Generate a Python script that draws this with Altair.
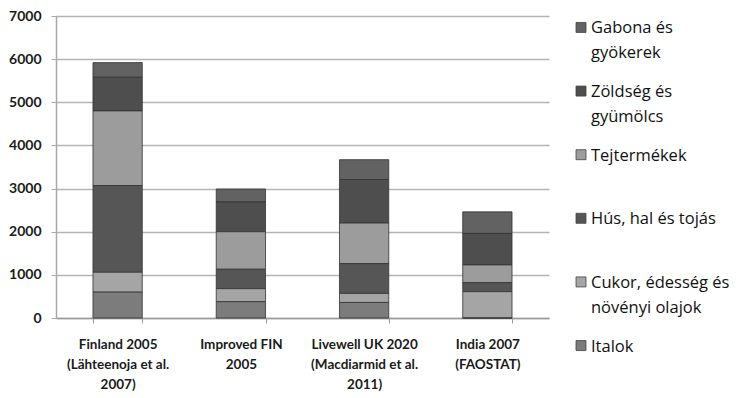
import altair as alt
import pandas as pd

categories = [
    "Finland 2005|(Lähteenoja et al.|2007)",
    "Improved FIN|2005",
    "Livewell UK 2020|(Macdiarmid et al.|2011)",
    "India 2007|(FAOSTAT)",
]
series = ["Gabona és gyökerek", "Zöldség és gyümölcs", "Tejtermékek",
          "Hús, hal és tojás", "Cukor, édesség és növényi olajok", "Italok"]
legend_labels = ["Gabona és\ngyökerek", "Zöldség és\ngyümölcs", "Tejtermékek",
                 "Hús, hal és tojás", "Cukor, édesség és\nnövényi olajok", "Italok"]
colors = ["#626262", "#4e4e4e", "#9c9c9c", "#565656", "#a5a5a5", "#7c7c7c"]

gabona = [340, 300, 460, 500]
zoldseg = [780, 690, 1010, 730]
tej = [1730, 870, 940, 410]
hus = [2010, 450, 690, 210]
cukor = [460, 300, 210, 610]
italok = [600, 380, 360, 0]

values = [gabona, zoldseg, tej, hus, cukor, italok]
rows = []
for si, (s, vals) in enumerate(zip(series, values)):
    for c, v in zip(categories, vals):
        rows.append({"cat": c, "series": s, "value": v, "order": len(series) - si})
df = pd.DataFrame(rows)

color_scale = alt.Scale(domain=series, range=colors)
font = "Lato"

bars = alt.Chart(df).mark_bar(stroke="#333333", strokeWidth=1, strokeOpacity=0.8).encode(
    x=alt.X("cat:N", sort=categories, title=None,
            scale=alt.Scale(paddingInner=0.6, paddingOuter=0.3),
            axis=alt.Axis(labelAngle=0, labelExpr="split(datum.label, '|')",
                          labelLimit=0, labelLineHeight=20, labelFontSize=13.5,
                          labelFontWeight="bold", labelFont=font, labelColor="#1a1a1a",
                          labelPadding=14, tickBand="extent", tickSize=5,
                          tickColor="#9a9a9a", domainColor="#9a9a9a", domainWidth=1.5,
                          labelBaseline="top")),
    y=alt.Y("value:Q", stack="zero", title=None,
            scale=alt.Scale(domain=[0, 7000], nice=False),
            axis=alt.Axis(values=[0, 1000, 2000, 3000, 4000, 5000, 6000, 7000],
                          format="d",
                          labelFontSize=14, labelFontWeight="bold", labelFont=font,
                          labelColor="#1a1a1a", labelPadding=10, tickSize=5,
                          tickColor="#a8a8a8", gridColor="#b4b4b4", gridWidth=1.5,
                          domainColor="#a8a8a8", domainWidth=1.5)),
    color=alt.Color("series:N", scale=color_scale, legend=None),
    order=alt.Order("order:Q"),
).properties(width=493, height=302)

leg_df = pd.DataFrame({"series": series, "label": legend_labels})
ly = alt.Y("series:N", sort=series, axis=None,
           scale=alt.Scale(type="point", padding=0.18))
leg_sq = alt.Chart(leg_df).mark_square(size=100, stroke="#444444", strokeWidth=0.8, opacity=1).encode(
    x=alt.value(12), y=ly,
    color=alt.Color("series:N", scale=color_scale, legend=None))
leg_tx = alt.Chart(leg_df).mark_text(align="left", baseline="alphabetic", dy=6,
                                     fontSize=16.5, font="Open Sans", color="#111111",
                                     lineBreak="\n", lineHeight=25).encode(
    x=alt.value(22), y=ly, text="label:N")
legend = alt.layer(leg_sq, leg_tx).properties(width=150, height=341)

chart = alt.hconcat(bars, legend, spacing=20).properties(
    padding={"top": 1, "left": 0, "right": 0, "bottom": 0}
).configure_view(stroke=None)
chart.save("out.html", embed_options={"renderer": "svg", "actions": False})
